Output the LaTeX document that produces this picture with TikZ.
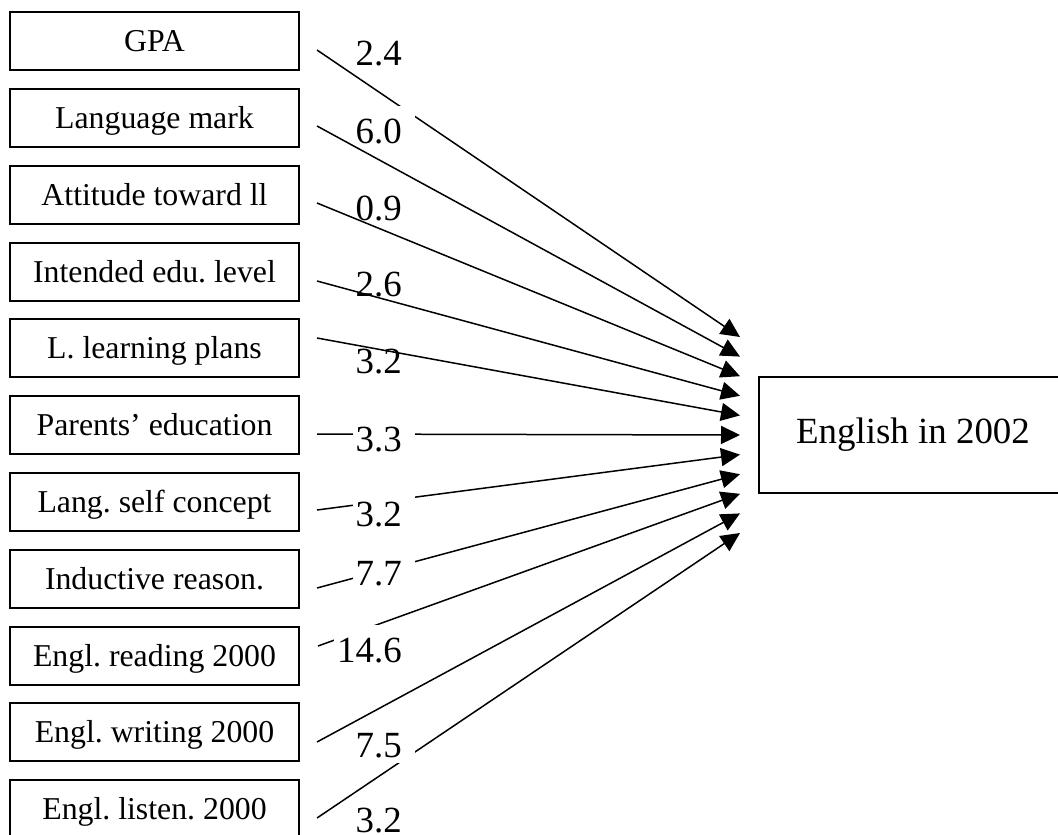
\documentclass[tikz,border=0pt]{standalone}
\usepackage{fontspec}
\setmainfont{Liberation Serif}
\usetikzlibrary{arrows.meta}
\frenchspacing
\tikzset{
  var/.style={draw, line width=1.8pt, rectangle, minimum width=289pt, minimum height=58pt,
    inner sep=0pt, text height=21pt, text depth=0pt, font=\fontsize{31.8}{38}\selectfont},
  outcome/.style={draw, line width=1.8pt, rectangle, minimum width=308pt, minimum height=116pt,
    inner sep=0pt, text height=16pt, text depth=0pt, font=\fontsize{36.9}{44}\selectfont},
  coef/.style={fill=white, inner sep=0pt, anchor=base east, text height=37pt, text depth=6pt,
    font=\fontsize{36.9}{44}\selectfont},
  conn/.style={line width=1.5pt, -{Triangle[length=19pt,width=18pt]}}
}
\newcommand{\cf}[1]{\kern3pt #1\kern13pt}
\begin{document}
\begin{tikzpicture}[x=1pt,y=-1pt]
\useasboundingbox[fill=white] (0,0) rectangle (1058,835);
\clip (0,0) rectangle (1058,835);
% predictor boxes
\node[var] (b1)  at (154.5,41)  {GPA};
\node[var] (b2)  at (154.5,118) {Language mark};
\node[var] (b3)  at (154.5,195) {Attitude toward ll};
\node[var] (b4)  at (154.5,272) {Intended edu. level};
\node[var] (b5)  at (154.5,348) {L. learning plans};
\node[var] (b6)  at (154.5,425) {Parents’ education};
\node[var] (b7)  at (154.5,502) {Lang. self concept};
\node[var] (b8)  at (154.5,579) {Inductive reason.};
\node[var] (b9)  at (154.5,656) {Engl. reading 2000};
\node[var] (b10) at (154.5,732) {Engl. writing 2000};
\node[var] (b11) at (154.5,809) {Engl. listen. 2000};
% outcome
\node[outcome] (eng) at (913,435) {English in 2002};
% connector start and tip points
\coordinate (s1)  at (317,50);
\coordinate (s2)  at (317,126);
\coordinate (s3)  at (317,203);
\coordinate (s4)  at (317,281);
\coordinate (s5)  at (317,338);
\coordinate (s6)  at (317,434);
\coordinate (s7)  at (317,510);
\coordinate (s8)  at (317,588);
\coordinate (s9)  at (318,646);
\coordinate (s10) at (317,742);
\coordinate (s11) at (317,818);
\coordinate (t1)  at (740,337);
\coordinate (t2)  at (740,356.6);
\coordinate (t3)  at (740,376.2);
\coordinate (t4)  at (740,395.8);
\coordinate (t5)  at (740,415.4);
\coordinate (t6)  at (740,435);
\coordinate (t7)  at (740,454.6);
\coordinate (t8)  at (740,474.2);
\coordinate (t9)  at (740,493.8);
\coordinate (t10) at (740,513.4);
\coordinate (t11) at (740,533);
% connectors lying under their labels
\draw[conn] (s1) -- (t1);
\draw[conn] (s6) -- (t6);
\draw[conn] (s7) -- (t7);
\draw[conn] (s8) -- (t8);
\draw[conn] (s9) -- (t9);
\draw[conn] (s11) -- (t11);
% coefficients
\node[coef] (c1)  at (415,65)  {\cf{2.4}};
\node[coef] (c2)  at (415,143) {\cf{6.0}};
\node[coef] (c3)  at (415,220) {\cf{0.9}};
\node[coef] (c4)  at (415,296) {\cf{2.6}};
\node[coef] (c5)  at (415,373) {\cf{3.2}};
\node[coef] (c6)  at (415,451) {\cf{3.3}};
\node[coef] (c7)  at (415,526) {\cf{3.2}};
\node[coef] (c8)  at (415,585) {\cf{7.7}};
\node[coef] (c9)  at (415,662) {\cf{14.6}};
\node[coef] (c10) at (415,757) {\cf{7.5}};
\node[coef] (c11) at (415,832) {\cf{3.2}};
% connectors lying over labels
\draw[conn] (s2) -- (t2);
\draw[conn] (s3) -- (t3);
\draw[conn] (s4) -- (t4);
\draw[conn] (s5) -- (t5);
\draw[conn] (s10) -- (t10);
\end{tikzpicture}
\end{document}
